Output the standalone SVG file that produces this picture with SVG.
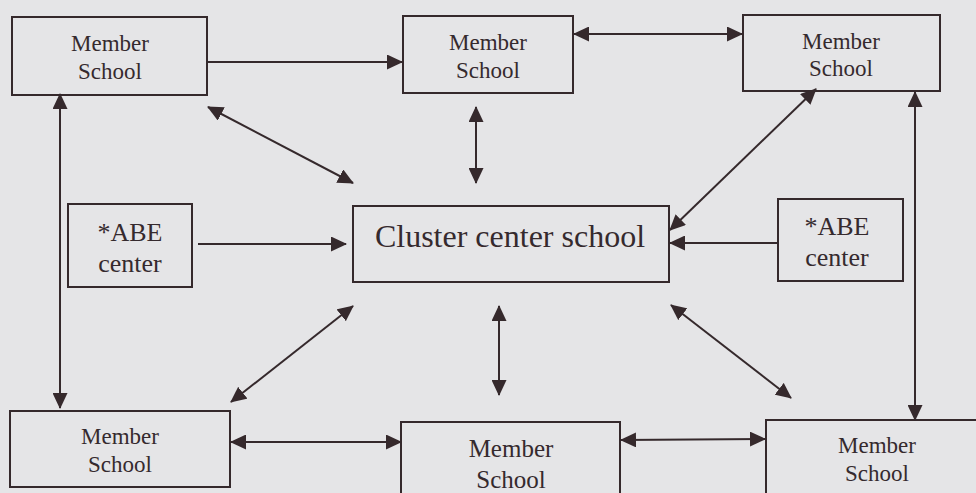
<svg xmlns="http://www.w3.org/2000/svg" width="976" height="493" viewBox="0 0 976 493">
  <defs>
    <marker id="ah" markerUnits="userSpaceOnUse" markerWidth="16" markerHeight="15" refX="15" refY="7.5" orient="auto-start-reverse" viewBox="0 0 16 15">
      <path d="M0,0 L16,7.5 L0,15 z" fill="#35292c"/>
    </marker>
    <style>
      .box { fill: none; stroke: #35292c; stroke-width: 2; }
      .t { font-family: "Liberation Serif", "Times New Roman", serif; fill: #352a2e; text-anchor: middle; }
      .m { font-size: 23px; }
      .a { font-size: 26px; }
      .c { font-size: 32px; }
      .con line { stroke: #35292c; stroke-width: 2; fill: none; }
      .bi { marker-start: url(#ah); marker-end: url(#ah); }
      .uni { marker-end: url(#ah); }
    </style>
  </defs>
  <rect width="976" height="493" fill="#e5e5e7"/>

  <g id="member-top-left">
    <rect class="box" x="12" y="17" width="195" height="78"/>
    <text class="t m" x="110" y="51">Member</text>
    <text class="t m" x="110" y="79">School</text>
  </g>
  <g id="member-top-middle">
    <rect class="box" x="403" y="16" width="170" height="77"/>
    <text class="t m" x="488" y="50">Member</text>
    <text class="t m" x="488" y="78">School</text>
  </g>
  <g id="member-top-right">
    <rect class="box" x="743" y="15" width="197" height="76"/>
    <text class="t m" x="841" y="49">Member</text>
    <text class="t m" x="841" y="76">School</text>
  </g>
  <g id="abe-left">
    <rect class="box" x="68" y="204" width="124" height="83"/>
    <text class="t a" x="130" y="241">*ABE</text>
    <text class="t a" x="130" y="272">center</text>
  </g>
  <g id="cluster-center">
    <rect class="box" x="353" y="206" width="316" height="76"/>
    <text class="t c" x="510" y="247">Cluster center school</text>
  </g>
  <g id="abe-right">
    <rect class="box" x="778" y="199" width="125" height="82"/>
    <text class="t a" x="837" y="235">*ABE</text>
    <text class="t a" x="837" y="266">center</text>
  </g>
  <g id="member-bottom-left">
    <rect class="box" x="10" y="411" width="220" height="76"/>
    <text class="t m" x="120" y="444">Member</text>
    <text class="t m" x="120" y="472">School</text>
  </g>
  <g id="member-bottom-middle">
    <rect class="box" x="401" y="422" width="219" height="90"/>
    <text class="t m" x="511" y="457" style="font-size:25px">Member</text>
    <text class="t m" x="511" y="488" style="font-size:25px">School</text>
  </g>
  <g id="member-bottom-right">
    <rect class="box" x="766" y="420" width="240" height="90"/>
    <text class="t m" x="877" y="453">Member</text>
    <text class="t m" x="877" y="481">School</text>
  </g>

  <g id="connectors" class="con">
    <line class="uni" x1="207" y1="62" x2="402" y2="62"/>
    <line class="bi" x1="574" y1="34" x2="742" y2="34"/>
    <line class="bi" x1="208" y1="107" x2="353" y2="183"/>
    <line class="bi" x1="476" y1="107" x2="476" y2="183"/>
    <line class="bi" x1="816" y1="89" x2="670" y2="230"/>
    <line class="bi" x1="60" y1="94" x2="60" y2="408"/>
    <line class="bi" x1="915" y1="92" x2="915" y2="420"/>
    <line class="uni" x1="198" y1="244" x2="346" y2="244"/>
    <line class="uni" x1="778" y1="243" x2="670" y2="243"/>
    <line class="bi" x1="231" y1="402" x2="353" y2="306"/>
    <line class="bi" x1="499" y1="306" x2="499" y2="395"/>
    <line class="bi" x1="671" y1="305" x2="791" y2="398"/>
    <line class="bi" x1="231" y1="442" x2="401" y2="442"/>
    <line class="bi" x1="621" y1="440" x2="765" y2="439"/>
  </g>
</svg>
